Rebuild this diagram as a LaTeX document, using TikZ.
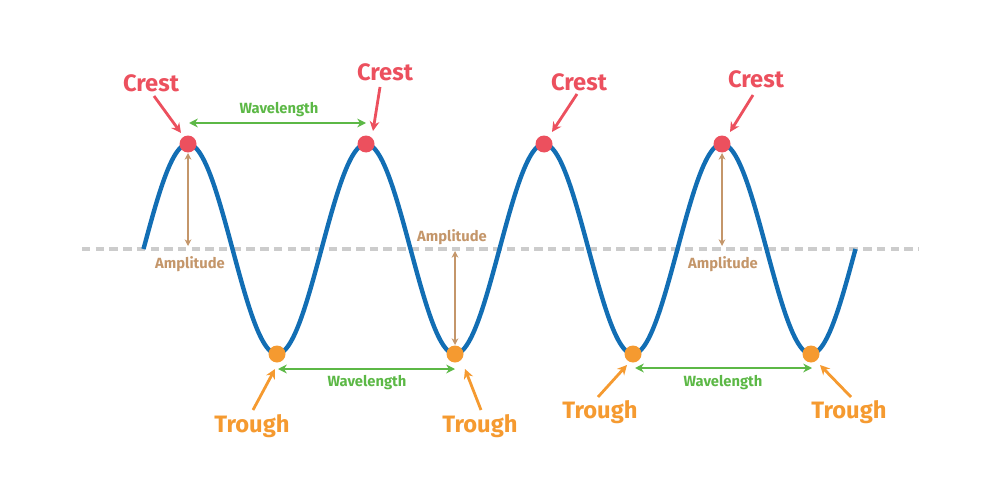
\documentclass[tikz,border=0pt]{standalone}
\usepackage{fontspec}
\setmainfont{Fira Sans}
\usetikzlibrary{arrows.meta}
\definecolor{waveblue}{RGB}{18,110,180}
\definecolor{crestred}{RGB}{236,80,94}
\definecolor{troughor}{RGB}{245,154,48}
\definecolor{wlgreen}{RGB}{92,184,70}
\definecolor{amptan}{RGB}{196,150,106}
\definecolor{dashgray}{RGB}{204,204,204}
\tikzset{
  crestdot/.style={circle, fill=crestred, inner sep=0pt, minimum size=17*0.02cm},
  troughdot/.style={circle, fill=troughor, inner sep=0pt, minimum size=17*0.02cm},
  crestlabel/.style={text=crestred, font=\fontsize{13.5}{15}\selectfont\bfseries, inner sep=0pt},
  troughlabel/.style={text=troughor, font=\fontsize{13.5}{15}\selectfont\bfseries, inner sep=0pt},
  wllabel/.style={text=wlgreen, font=\fontsize{8.4}{10}\selectfont\bfseries, inner sep=0pt},
  amplabel/.style={text=amptan, font=\fontsize{8.4}{10}\selectfont\bfseries, inner sep=0pt},
  crestarrow/.style={draw=crestred, line width=1.6pt, -{Stealth[length=5.5pt,width=5.5pt]}},
  trougharrow/.style={draw=troughor, line width=1.6pt, -{Stealth[length=5.5pt,width=5.5pt]}},
  wlarrow/.style={draw=wlgreen, line width=1.4pt, {Stealth[length=5pt,width=5pt]}-{Stealth[length=5pt,width=5pt]}},
  amparrow/.style={draw=amptan, line width=1pt, {Stealth[length=3.8pt,width=3.8pt]}-{Stealth[length=3.8pt,width=3.8pt]}},
  wave/.style={draw=waveblue, line width=2.5pt},
  baseline/.style={draw=dashgray, line width=1.8pt, dash pattern=on 4.8pt off 3pt}
}
\begin{document}
\begin{tikzpicture}[x=0.02cm, y=-0.02cm]
\useasboundingbox (0,0) rectangle (1000,500);
% baseline
\coordinate (bl1) at (82,249);
\coordinate (bl2) at (918,249);
\draw[baseline] (bl1) -- (bl2);
% wave
\draw[wave] plot[domain=143.5:855.5, samples=400, smooth] (\x, {249-105*sin((\x-143.5)*2.02247)});
% crest and trough dots
\node[crestdot] (c1) at (188,144) {};
\node[crestdot] (c2) at (366,144) {};
\node[crestdot] (c3) at (544,144) {};
\node[crestdot] (c4) at (722,144) {};
\node[troughdot] (t1) at (277,354) {};
\node[troughdot] (t2) at (455,354) {};
\node[troughdot] (t3) at (633,354) {};
\node[troughdot] (t4) at (811,354) {};
% crest labels
\node[crestlabel] (cl1) at (151,83) {Crest};
\node[crestlabel] (cl2) at (385,72) {Crest};
\node[crestlabel] (cl3) at (579,82) {Crest};
\node[crestlabel] (cl4) at (756,79) {Crest};
\coordinate (ca1s) at (154,96); \coordinate (ca1e) at (181,133);
\coordinate (ca2s) at (380,87); \coordinate (ca2e) at (373,131);
\coordinate (ca3s) at (577,94); \coordinate (ca3e) at (552,132);
\coordinate (ca4s) at (753,95); \coordinate (ca4e) at (730,132);
\draw[crestarrow] (ca1s) -- (ca1e);
\draw[crestarrow] (ca2s) -- (ca2e);
\draw[crestarrow] (ca3s) -- (ca3e);
\draw[crestarrow] (ca4s) -- (ca4e);
% trough labels
\node[troughlabel] (tl1) at (252,426) {Trough};
\node[troughlabel] (tl2) at (480,426) {Trough};
\node[troughlabel] (tl3) at (600,412) {Trough};
\node[troughlabel] (tl4) at (849,412) {Trough};
\coordinate (ta1s) at (253,410); \coordinate (ta1e) at (275,369);
\coordinate (ta2s) at (481,410); \coordinate (ta2e) at (465,369);
\coordinate (ta3s) at (598,397); \coordinate (ta3e) at (627,365);
\coordinate (ta4s) at (851,397); \coordinate (ta4e) at (820,365);
\draw[trougharrow] (ta1s) -- (ta1e);
\draw[trougharrow] (ta2s) -- (ta2e);
\draw[trougharrow] (ta3s) -- (ta3e);
\draw[trougharrow] (ta4s) -- (ta4e);
% wavelengths
\coordinate (w1a) at (189,123); \coordinate (w1b) at (366,123);
\draw[wlarrow] (w1a) -- (w1b);
\node[wllabel] (wl1) at (279,110) {Wavelength};
\coordinate (w2a) at (278,369); \coordinate (w2b) at (455,369);
\draw[wlarrow] (w2a) -- (w2b);
\node[wllabel] (wl2) at (367,383) {Wavelength};
\coordinate (w3a) at (635,368); \coordinate (w3b) at (812,368);
\draw[wlarrow] (w3a) -- (w3b);
\node[wllabel] (wl3) at (723,383) {Wavelength};
% amplitudes
\coordinate (a1a) at (188,153); \coordinate (a1b) at (188,246);
\draw[amparrow] (a1a) -- (a1b);
\node[amplabel] (al1) at (190,264) {Amplitude};
\coordinate (a2a) at (455,251); \coordinate (a2b) at (455,345);
\draw[amparrow] (a2a) -- (a2b);
\node[amplabel] (al2) at (452,237) {Amplitude};
\coordinate (a3a) at (722,153); \coordinate (a3b) at (722,246);
\draw[amparrow] (a3a) -- (a3b);
\node[amplabel] (al3) at (723,264) {Amplitude};
\end{tikzpicture}
\end{document}
